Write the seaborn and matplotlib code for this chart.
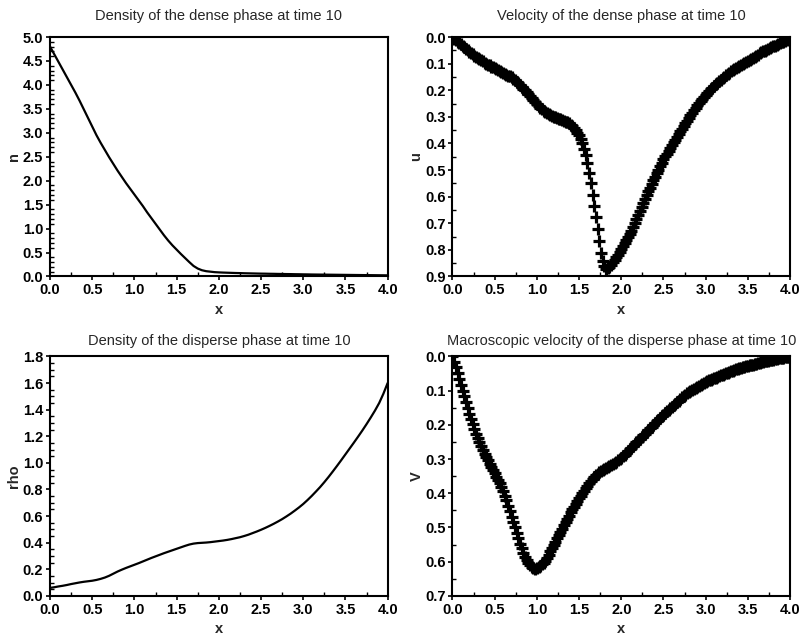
import numpy as np
import pandas as pd
import seaborn as sns
from matplotlib import pyplot as plt
from matplotlib import ticker

# simulation grids (line panels use the coarse grid, marker panels the fine one)
x_line = np.linspace(0, 4, 81)
x_mark = np.linspace(0, 4, 201)

n_dense = [
    4.80, 4.64, 4.48, 4.32, 4.16, 4.00, 3.84, 3.67, 3.49, 3.31,
    3.13, 2.95, 2.79, 2.64, 2.49, 2.35, 2.21, 2.08, 1.95, 1.83,
    1.71, 1.59, 1.47, 1.34, 1.22, 1.10, 0.98, 0.86, 0.75, 0.65,
    0.56, 0.47, 0.385, 0.30, 0.22, 0.165, 0.13, 0.11, 0.10, 0.09,
    0.085, 0.081, 0.078, 0.075, 0.072, 0.070, 0.067, 0.065, 0.063, 0.061,
    0.059, 0.058, 0.056, 0.055, 0.053, 0.052, 0.050, 0.049, 0.047, 0.046,
    0.044, 0.043, 0.041, 0.040, 0.039, 0.038, 0.037, 0.036, 0.035, 0.034,
    0.033, 0.032, 0.031, 0.030, 0.029, 0.028, 0.027, 0.026, 0.025, 0.024,
    0.023,
]

rho_disperse = [
    0.060, 0.065, 0.071, 0.076, 0.082, 0.089, 0.095, 0.101, 0.106, 0.110,
    0.114, 0.120, 0.128, 0.138, 0.151, 0.167, 0.183, 0.197, 0.210, 0.222,
    0.234, 0.246, 0.259, 0.272, 0.285, 0.297, 0.309, 0.321, 0.332, 0.343,
    0.354, 0.365, 0.376, 0.386, 0.393, 0.397, 0.399, 0.401, 0.404, 0.408,
    0.412, 0.416, 0.421, 0.427, 0.434, 0.441, 0.450, 0.460, 0.472, 0.484,
    0.497, 0.511, 0.526, 0.542, 0.559, 0.577, 0.597, 0.618, 0.641, 0.665,
    0.691, 0.720, 0.751, 0.784, 0.818, 0.855, 0.894, 0.935, 0.977, 1.020,
    1.064, 1.108, 1.152, 1.197, 1.243, 1.291, 1.341, 1.393, 1.450, 1.520,
    1.600,
]

u_dense = [
    0.000, 0.006, 0.012, 0.017, 0.023, 0.028, 0.034, 0.039, 0.044, 0.050,
    0.055, 0.060, 0.065, 0.070, 0.075, 0.080, 0.084, 0.088, 0.092, 0.096,
    0.100, 0.104, 0.107, 0.111, 0.114, 0.118, 0.121, 0.125, 0.128, 0.132,
    0.135, 0.138, 0.142, 0.145, 0.148, 0.152, 0.157, 0.162, 0.168, 0.174,
    0.180, 0.187, 0.194, 0.201, 0.208, 0.215, 0.223, 0.231, 0.238, 0.246,
    0.253, 0.260, 0.266, 0.272, 0.277, 0.282, 0.286, 0.290, 0.293, 0.296,
    0.299, 0.302, 0.304, 0.307, 0.309, 0.312, 0.315, 0.318, 0.321, 0.325,
    0.330, 0.336, 0.342, 0.350, 0.359, 0.370, 0.383, 0.400, 0.420, 0.445,
    0.475, 0.510, 0.550, 0.592, 0.635, 0.678, 0.722, 0.768, 0.810, 0.842,
    0.862, 0.872, 0.868, 0.864, 0.856, 0.847, 0.838, 0.828, 0.818, 0.808,
    0.797, 0.786, 0.775, 0.764, 0.752, 0.740, 0.728, 0.714, 0.699, 0.684,
    0.669, 0.654, 0.639, 0.624, 0.609, 0.594, 0.580, 0.566, 0.552, 0.539,
    0.526, 0.512, 0.499, 0.486, 0.473, 0.460, 0.449, 0.438, 0.428, 0.417,
    0.407, 0.396, 0.386, 0.376, 0.365, 0.355, 0.345, 0.335, 0.325, 0.315,
    0.305, 0.295, 0.285, 0.275, 0.265, 0.256, 0.248, 0.240, 0.232, 0.224,
    0.217, 0.210, 0.203, 0.197, 0.190, 0.184, 0.178, 0.172, 0.166, 0.160,
    0.155, 0.149, 0.144, 0.139, 0.134, 0.129, 0.124, 0.120, 0.116, 0.112,
    0.108, 0.104, 0.101, 0.097, 0.093, 0.090, 0.086, 0.082, 0.078, 0.074,
    0.070, 0.066, 0.062, 0.058, 0.054, 0.051, 0.048, 0.045, 0.041, 0.038,
    0.035, 0.032, 0.029, 0.026, 0.023, 0.020, 0.017, 0.014, 0.011, 0.008,
    0.005,
]

v_disperse = [
    0.000, 0.015, 0.032, 0.049, 0.066, 0.083, 0.100, 0.117, 0.134, 0.151,
    0.167, 0.183, 0.198, 0.212, 0.226, 0.239, 0.251, 0.263, 0.274, 0.284,
    0.294, 0.304, 0.313, 0.323, 0.332, 0.342, 0.351, 0.361, 0.371, 0.382,
    0.394, 0.407, 0.421, 0.436, 0.452, 0.468, 0.484, 0.500, 0.516, 0.532,
    0.547, 0.561, 0.574, 0.586, 0.596, 0.604, 0.611, 0.616, 0.619, 0.620,
    0.619, 0.617, 0.613, 0.608, 0.603, 0.597, 0.589, 0.580, 0.570, 0.560,
    0.550, 0.541, 0.531, 0.522, 0.512, 0.503, 0.493, 0.484, 0.474, 0.465,
    0.455, 0.447, 0.439, 0.431, 0.423, 0.415, 0.407, 0.399, 0.392, 0.385,
    0.378, 0.371, 0.364, 0.358, 0.352, 0.347, 0.343, 0.339, 0.336, 0.333,
    0.330, 0.327, 0.324, 0.321, 0.318, 0.315, 0.311, 0.308, 0.304, 0.301,
    0.297, 0.292, 0.287, 0.282, 0.277, 0.272, 0.267, 0.262, 0.257, 0.251,
    0.246, 0.241, 0.236, 0.231, 0.226, 0.220, 0.215, 0.210, 0.205, 0.200,
    0.195, 0.190, 0.185, 0.180, 0.175, 0.170, 0.165, 0.160, 0.156, 0.151,
    0.147, 0.142, 0.138, 0.133, 0.129, 0.124, 0.120, 0.116, 0.112, 0.108,
    0.104, 0.101, 0.098, 0.095, 0.092, 0.089, 0.086, 0.083, 0.080, 0.078,
    0.075, 0.073, 0.070, 0.068, 0.066, 0.064, 0.062, 0.059, 0.057, 0.055,
    0.053, 0.051, 0.049, 0.047, 0.045, 0.043, 0.042, 0.040, 0.038, 0.037,
    0.035, 0.034, 0.032, 0.031, 0.029, 0.028, 0.026, 0.025, 0.024, 0.022,
    0.021, 0.020, 0.018, 0.017, 0.015, 0.014, 0.013, 0.012, 0.011, 0.010,
    0.009, 0.008, 0.007, 0.006, 0.005, 0.004, 0.004, 0.003, 0.003, 0.002,
    0.002,
]

sns.set_theme(style="ticks", rc={
    "axes.linewidth": 1.5,
    "axes.edgecolor": "black",
    "xtick.color": "black",
    "ytick.color": "black",
})
plt.rcParams["font.family"] = ["Liberation Sans", "DejaVu Sans"]


def decorate(ax, title, ylabel, ymax, major, minor_n, invert=False, title_pad=8):
    ax.set_title(title, fontsize=10.5, pad=title_pad)
    ax.set_xlabel("x", fontsize=10.5, fontweight="bold", labelpad=4)
    ax.set_ylabel(ylabel, fontsize=10.5, fontweight="bold", labelpad=1)
    ax.set_xlim(0, 4)
    if invert:
        ax.set_ylim(ymax, 0)  # 0 at the top, like the original plots
    else:
        ax.set_ylim(0, ymax)
    ax.xaxis.set_major_locator(ticker.MultipleLocator(0.5))
    ax.xaxis.set_minor_locator(ticker.AutoMinorLocator(2))
    ax.yaxis.set_major_locator(ticker.MultipleLocator(major))
    ax.yaxis.set_minor_locator(ticker.AutoMinorLocator(minor_n))
    ax.xaxis.set_major_formatter(ticker.FormatStrFormatter("%.1f"))
    ax.yaxis.set_major_formatter(ticker.FormatStrFormatter("%.1f"))
    ax.tick_params(which="major", direction="out", length=3, width=1.2, pad=2, labelsize=10.5)
    ax.tick_params(which="minor", direction="in", length=3, width=1)
    for label in ax.get_xticklabels() + ax.get_yticklabels():
        label.set_fontweight("bold")


fig, axes = plt.subplots(2, 2, figsize=(8.07, 6.38), dpi=100)
plt.subplots_adjust(left=0.062, right=0.979, bottom=0.066, top=0.942, wspace=0.192, hspace=0.334)

line_df = pd.DataFrame({"x": x_line, "n": n_dense, "rho": rho_disperse})
mark_df = pd.DataFrame({"x": x_mark, "u": u_dense, "V": v_disperse})

sns.lineplot(data=line_df, x="x", y="n", color="black", linewidth=1.6, ax=axes[0, 0])
decorate(axes[0, 0], "Density of the dense phase at time 10", "n", 5.0, 0.5, 5, title_pad=12)

sns.scatterplot(data=mark_df, x="x", y="u", marker="+", s=70, linewidth=2.3, color="black", ax=axes[0, 1])
decorate(axes[0, 1], "Velocity of the dense phase at time 10", "u", 0.9, 0.1, 2, invert=True, title_pad=12)

sns.lineplot(data=line_df, x="x", y="rho", color="black", linewidth=1.6, ax=axes[1, 0])
decorate(axes[1, 0], "Density of the disperse phase at time 10", "rho", 1.8, 0.2, 4)

sns.scatterplot(data=mark_df, x="x", y="V", marker="+", s=70, linewidth=2.3, color="black", ax=axes[1, 1])
decorate(axes[1, 1], "Macroscopic velocity of the disperse phase at time 10", "V", 0.7, 0.1, 2, invert=True)

plt.savefig("out.png", dpi=100)
